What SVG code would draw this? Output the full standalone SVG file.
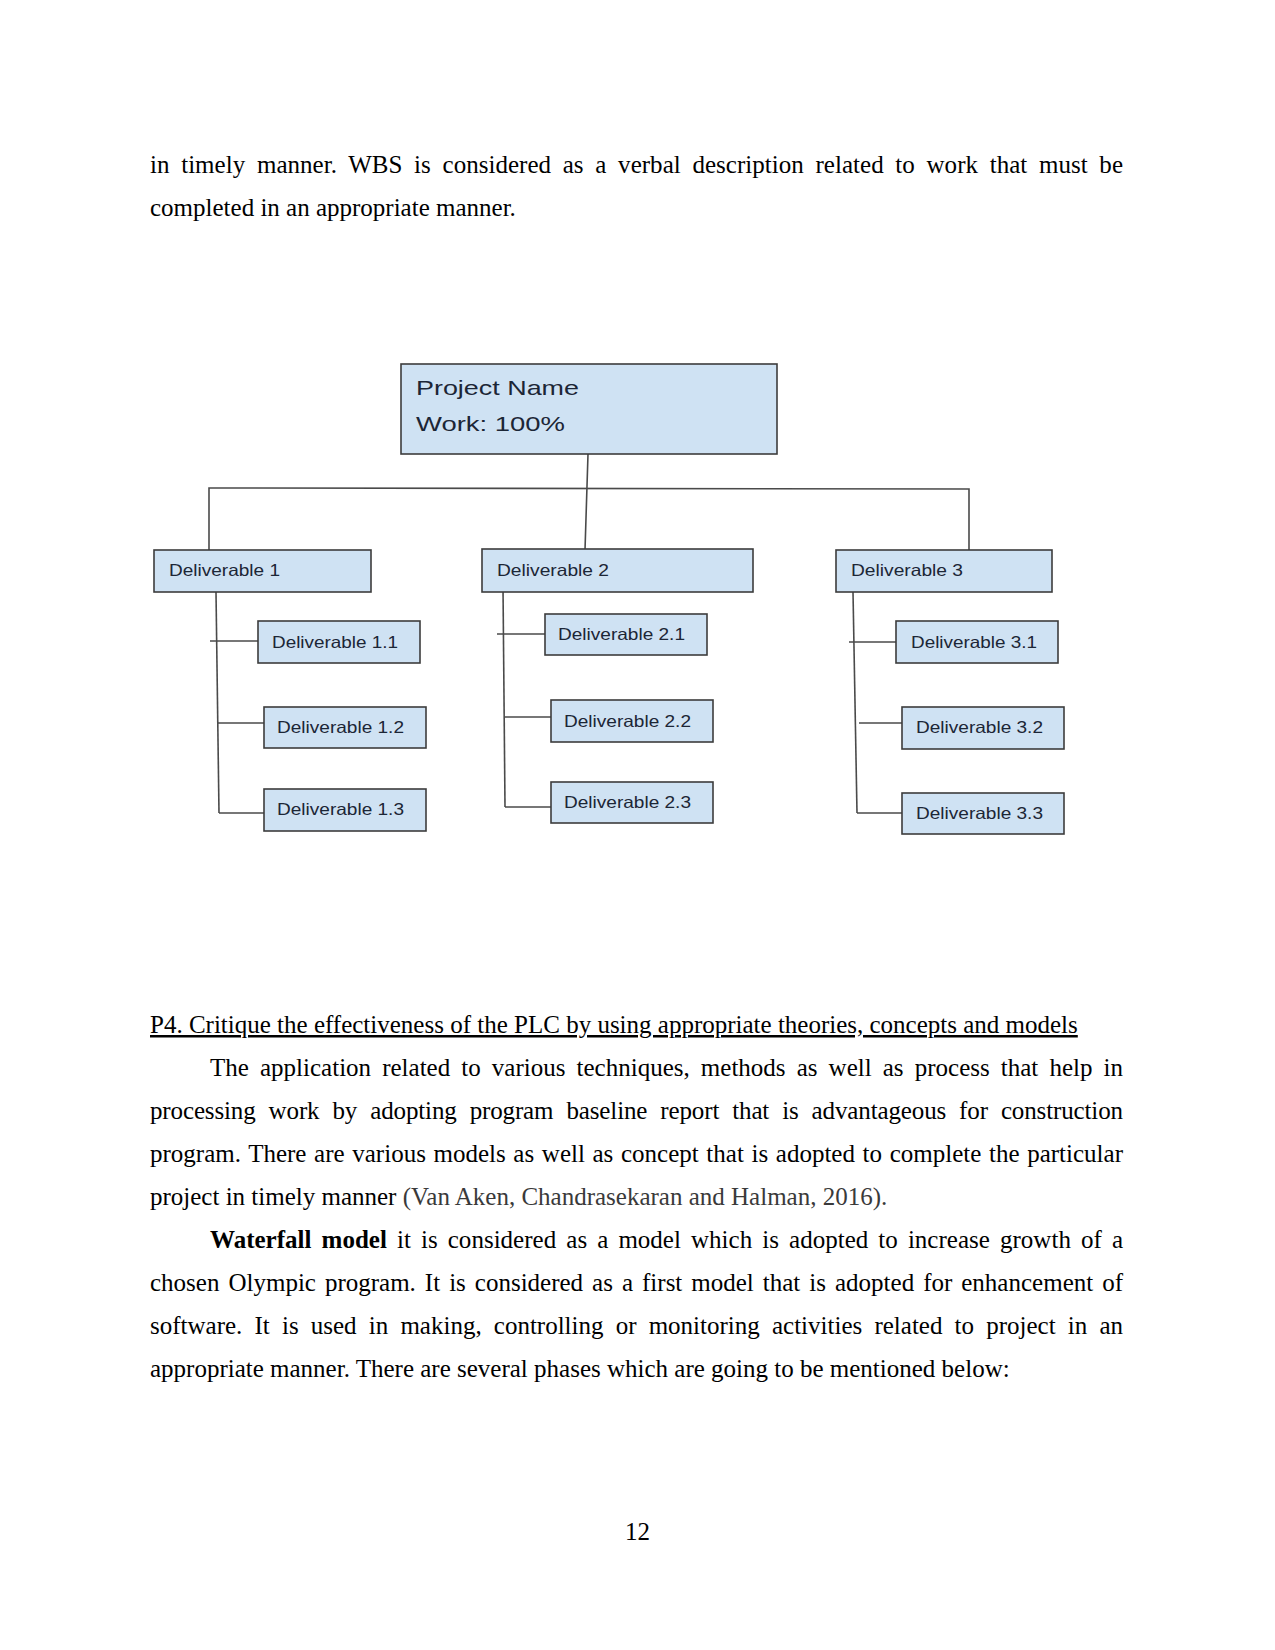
<svg xmlns="http://www.w3.org/2000/svg" width="1275" height="1650" viewBox="0 0 1275 1650">
<style>
.body{font-family:"Liberation Serif","Times New Roman",serif;font-size:25px;fill:#000}
.cite{fill:#3a3a3a}
.box{fill:#cfe2f3;stroke:#3c3c3c;stroke-width:1.6}
.lbl{font-family:"Liberation Sans",Arial,sans-serif;font-size:16.5px;fill:#1c2636}
.big{font-family:"Liberation Sans",Arial,sans-serif;font-size:21px;fill:#1c2636}
.con{fill:none;stroke:#4a4a4a;stroke-width:1.6}
</style>
<rect width="1275" height="1650" fill="#fff"/>
<g id="text-top">
<text class="body" x="150" y="173" word-spacing="5.4" textLength="973" lengthAdjust="spacing">in timely manner. WBS is considered as a verbal description related to work that must be</text>
<text class="body" x="150" y="216">completed in an appropriate manner.</text>
</g>
<g id="connectors">
<path class="con" d="M588 454 L585 550"/>
<path class="con" d="M209 550 L209 488 L969 489 L969 558"/>
<path class="con" d="M216 592 L219 813"/>
<path class="con" d="M210 641 L258 641"/>
<path class="con" d="M218 723 L264 723"/>
<path class="con" d="M219 813 L264 813"/>
<path class="con" d="M503 587 L505 807"/>
<path class="con" d="M497 634 L545 634"/>
<path class="con" d="M505 717 L551 717"/>
<path class="con" d="M505 807 L551 807"/>
<path class="con" d="M853 592 L857 813"/>
<path class="con" d="M849 642 L896 642"/>
<path class="con" d="M859 723 L902 723"/>
<path class="con" d="M857 813 L902 813"/>
</g>
<g id="project">
<rect class="box" x="401" y="364" width="376" height="90"/>
<text class="big" x="416" y="395" textLength="163" lengthAdjust="spacingAndGlyphs">Project Name</text>
<text class="big" x="416" y="431" textLength="149" lengthAdjust="spacingAndGlyphs">Work: 100%</text>
</g>
<g id="d1">
<rect class="box" x="154" y="550" width="217" height="42"/>
<text class="lbl" x="169" y="576" textLength="111" lengthAdjust="spacingAndGlyphs">Deliverable 1</text>
</g>
<g id="d2">
<rect class="box" x="482" y="549" width="271" height="43"/>
<text class="lbl" x="497" y="576" textLength="112" lengthAdjust="spacingAndGlyphs">Deliverable 2</text>
</g>
<g id="d3">
<rect class="box" x="836" y="550" width="216" height="42"/>
<text class="lbl" x="851" y="576" textLength="112" lengthAdjust="spacingAndGlyphs">Deliverable 3</text>
</g>
<g id="d11">
<rect class="box" x="258" y="621" width="162" height="42"/>
<text class="lbl" x="272" y="648" textLength="126" lengthAdjust="spacingAndGlyphs">Deliverable 1.1</text>
</g>
<g id="d12">
<rect class="box" x="264" y="707" width="162" height="41"/>
<text class="lbl" x="277" y="733" textLength="127" lengthAdjust="spacingAndGlyphs">Deliverable 1.2</text>
</g>
<g id="d13">
<rect class="box" x="264" y="789" width="162" height="42"/>
<text class="lbl" x="277" y="815" textLength="127" lengthAdjust="spacingAndGlyphs">Deliverable 1.3</text>
</g>
<g id="d21">
<rect class="box" x="545" y="614" width="162" height="41"/>
<text class="lbl" x="558" y="640" textLength="127" lengthAdjust="spacingAndGlyphs">Deliverable 2.1</text>
</g>
<g id="d22">
<rect class="box" x="551" y="700" width="162" height="42"/>
<text class="lbl" x="564" y="727" textLength="127" lengthAdjust="spacingAndGlyphs">Deliverable 2.2</text>
</g>
<g id="d23">
<rect class="box" x="551" y="782" width="162" height="41"/>
<text class="lbl" x="564" y="808" textLength="127" lengthAdjust="spacingAndGlyphs">Deliverable 2.3</text>
</g>
<g id="d31">
<rect class="box" x="896" y="621" width="162" height="42"/>
<text class="lbl" x="911" y="648" textLength="126" lengthAdjust="spacingAndGlyphs">Deliverable 3.1</text>
</g>
<g id="d32">
<rect class="box" x="902" y="707" width="162" height="42"/>
<text class="lbl" x="916" y="733" textLength="127" lengthAdjust="spacingAndGlyphs">Deliverable 3.2</text>
</g>
<g id="d33">
<rect class="box" x="902" y="793" width="162" height="41"/>
<text class="lbl" x="916" y="819" textLength="127" lengthAdjust="spacingAndGlyphs">Deliverable 3.3</text>
</g>
<g id="text-bottom">
<text class="body" x="150" y="1033" text-decoration="underline">P4. Critique the effectiveness of the PLC by using appropriate theories, concepts and models</text>
<text class="body" x="210" y="1076" word-spacing="4.85" textLength="913" lengthAdjust="spacing">The application related to various techniques, methods as well as process that help in</text>
<text class="body" x="150" y="1119" word-spacing="6.9" textLength="973" lengthAdjust="spacing">processing work by adopting program baseline report that is advantageous for construction</text>
<text class="body" x="150" y="1162" word-spacing="1.35" textLength="973" lengthAdjust="spacing">program. There are various models as well as concept that is adopted to complete the particular</text>
<text class="body" x="150" y="1205">project in timely manner <tspan class="cite">(Van Aken, Chandrasekaran and Halman, 2016).</tspan></text>
<text class="body" x="210" y="1248" word-spacing="3.8" textLength="913" lengthAdjust="spacing"><tspan font-weight="bold">Waterfall model</tspan> it is considered as a model which is adopted to increase growth of a</text>
<text class="body" x="150" y="1291" word-spacing="2.75" textLength="973" lengthAdjust="spacing">chosen Olympic program. It is considered as a first model that is adopted for enhancement of</text>
<text class="body" x="150" y="1334" word-spacing="5.9" textLength="973" lengthAdjust="spacing">software. It is used in making, controlling or monitoring activities related to project in an</text>
<text class="body" x="150" y="1377">appropriate manner. There are several phases which are going to be mentioned below:</text>
<text class="body" x="637.5" y="1540" text-anchor="middle">12</text>
</g>
</svg>
